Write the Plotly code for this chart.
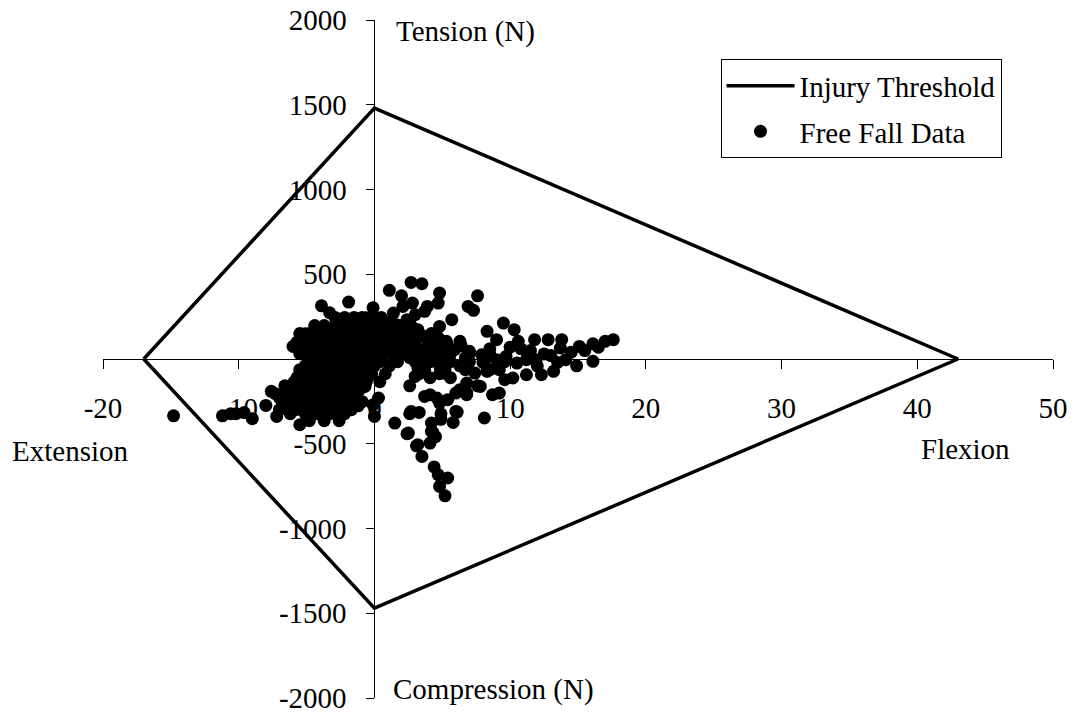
import plotly.graph_objects as go

# Injury threshold envelope (extension/flexion moment vs axial force)
threshold_moment = [-17, 0, 43, 0, -17]
threshold_force = [0, 1480, 0, -1470, 0]

# Axis ticks
x_tick_values = [-20, -10, 0, 10, 20, 30, 40, 50]
x_tick_labels = ["-20", "-10", "0", "10", "20", "30", "40", "50"]
y_tick_values = [2000, 1500, 1000, 500, 0, -500, -1000, -1500, -2000]
y_tick_labels = ["2000", "1500", "1000", "500", "0", "-500", "-1000", "-1500", "-2000"]

# Free fall measurements: (moment, force) pairs
sparse_points = [
    (-14.8, -335),
    (-11.2, -335), (-10.6, -323), (-10.2, -323), (-9.6, -316), (-9.0, -352),
    (-8.0, -274), (-7.6, -191), (-7.2, -339), (-6.4, -217), (-5.5, -388),
    (-6.0, 74), (-5.1, 149), (-4.3, 124), (-3.9, 314), (-3.3, 273), (-1.9, 336),
    (-0.1, 303), (-0.6, 244), (0.0, 222),
    (1.1, 405), (2.0, 373), (2.7, 452), (3.5, 444), (4.8, 389), (4.7, 330),
    (7.6, 373), (6.9, 310), (7.3, 287),
    (1.4, 271), (5.7, 232), (4.8, 192), (8.3, 163), (9.5, 212), (10.3, 173),
    (9.0, 114), (10.6, 104), (11.8, 114), (12.8, 114), (13.8, 114),
    (15.1, 74), (16.1, 90), (17.0, 104), (17.6, 114), (13.7, 65), (16.1, -14),
    (14.9, -40), (14.1, -4), (13.2, -73), (12.3, -93), (11.2, -93), (10.2, -112),
    (9.6, -122), (9.2, -201), (8.1, -348), (7.6, -158), (6.8, -201), (6.0, -309),
    (5.8, -374), (4.9, -323), (4.2, -427), (4.1, -496), (3.2, -506), (3.5, -575),
    (2.5, -437), (1.5, -378), (2.6, -323), (3.3, -315), (2.6, -158), (3.2, -53),
    (3.0, -103), (0.3, -230), (-0.1, -270), (0.0, -339), (-0.7, -162), (3.7, -221),
    (4.6, -230), (5.4, -240), (6.3, -181), (6.8, -142),
    (5.5, -4), (6.3, 104), (7.0, 45), (7.9, 25), (9.0, -4), (9.7, 15), (10.5, -24),
    (11.2, -4), (11.9, -4), (9.2, -63), (8.3, -73), (7.4, -83), (5.3, 104),
    (4.7, 55), (4.4, -4), (5.1, -83), (3.9, 65), (3.7, 133), (3.2, 163), (2.6, 163),
    (1.9, 133), (1.3, 114), (0.6, 65), (-0.1, 94), (0.3, 163), (0.9, 192),
    (1.6, 202), (2.4, 232), (3.0, 261), (3.7, 281), (3.9, 310), (2.8, 330), (2.1, 310),
    (4.1, -211), (4.8, -260), (2.7, -309), (2.4, -441), (4.2, -378), (4.3, -433),
    (3.1, -512), (4.4, -637), (4.7, -683), (5.4, -702), (4.8, -752), (5.2, -807),
    (4.9, -356), (6.1, -313), (6.0, -201), (6.8, -211), (7.8, -162), (8.7, -211),
    (4.5, -458),
    (12.5, 30), (13.0, 20), (14.5, 40), (15.5, 50), (16.5, 70), (11.5, 50),
    (10.8, 60), (12.0, -40), (13.5, -20), (10.0, 70), (8.5, 60), (8.0, -20),
]

core_points = [
    (-2.9, 245), (-2.2, 245), (-1.5, 245), (-0.9, 245), (-0.2, 245), (0.5, 245),
    (-4.4, 197), (-3.7, 197), (-2.9, 197), (-2.2, 197), (-1.5, 197), (-0.7, 197),
    (0.4, 197), (1.1, 197), (1.9, 197), (2.7, 197),
    (-5.5, 150), (-4.8, 150), (-4.0, 150), (-3.3, 150), (-2.6, 150), (-1.8, 150),
    (-1.1, 150), (-0.3, 150), (0.8, 150), (1.5, 150), (2.2, 150), (3.3, 150), (4.2, 150),
    (-5.7, 100), (-4.9, 100), (-4.2, 100), (-3.4, 100), (-2.7, 100), (-2.0, 100),
    (-1.2, 100), (-0.5, 100), (0.4, 100), (1.3, 100), (2.2, 100), (3.0, 100),
    (4.1, 100), (5.2, 100),
    (-5.1, 55), (-4.4, 55), (-3.7, 55), (-2.9, 55), (-2.2, 55), (-1.5, 55),
    (-0.7, 55), (0.0, 55), (1.1, 55), (2.2, 55), (3.3, 55), (4.8, 55), (5.9, 55),
    (-4.8, 8), (-4.0, 8), (-3.3, 8), (-2.6, 8), (-1.8, 8), (-1.1, 8), (-0.3, 8),
    (0.5, 8), (1.5, 8), (2.6, 8), (3.7, 8), (5.2, 8), (6.7, 8),
    (-5.1, -40), (-4.4, -40), (-3.7, -40), (-2.9, -40), (-2.2, -40), (-1.5, -40),
    (-0.7, -40), (0.0, -40), (1.1, -40), (3.3, -40), (4.8, -40), (6.3, -40),
    (-5.5, -87), (-4.8, -87), (-4.0, -87), (-3.3, -87), (-2.6, -87), (-1.8, -87),
    (-1.1, -87), (-0.2, -87), (0.8, -87), (3.3, -87), (4.8, -87),
    (-5.9, -134), (-5.1, -134), (-4.4, -134), (-3.7, -134), (-2.9, -134),
    (-2.2, -134), (-1.5, -134), (-0.6, -134), (0.4, -134),
    (-6.2, -181), (-5.5, -181), (-4.8, -181), (-4.0, -181), (-3.3, -181),
    (-2.6, -181), (-1.8, -181), (-1.1, -181),
    (-7.0, -228), (-6.1, -228), (-5.4, -228), (-4.6, -228), (-3.9, -228),
    (-3.1, -228), (-2.4, -228), (-1.7, -228),
    (-6.6, -276), (-5.7, -276), (-4.8, -276), (-3.9, -276), (-3.0, -276),
    (-2.1, -276), (-1.2, -276),
    (-6.2, -323), (-5.1, -323), (-4.2, -323), (-3.3, -323), (-2.2, -323),
    (-4.8, -364), (-3.7, -364), (-2.6, -364),
]

# Additional readings interleaved through the dense central cluster
core_fill_points = [
    (-2.5, 220), (-1.8, 220), (-1.2, 220), (-0.5, 220), (0.2, 220), (1.1, 220),
    (-4.0, 173), (-3.3, 173), (-2.6, 173), (-1.8, 173), (-1.1, 173), (-0.2, 173),
    (0.8, 173), (1.7, 173), (2.5, 173), (3.2, 173),
    (-5.1, 126), (-4.4, 126), (-3.7, 126), (-2.9, 126), (-2.2, 126), (-1.5, 126),
    (-0.7, 126), (0.2, 126), (1.1, 126), (2.0, 126), (2.9, 126), (3.8, 126), (4.7, 126),
    (-5.5, 78), (-4.8, 78), (-4.0, 78), (-3.3, 78), (-2.6, 78), (-1.8, 78),
    (-1.1, 78), (-0.2, 78), (0.8, 78), (1.7, 78), (2.8, 78), (3.9, 78), (5.4, 78), (6.4, 78),
    (-5.5, 31), (-4.8, 31), (-4.0, 31), (-3.3, 31), (-2.6, 31), (-1.8, 31),
    (-1.1, 31), (-0.3, 31), (0.4, 31), (1.3, 31), (2.2, 31), (3.2, 31), (4.2, 31),
    (5.6, 31), (7.0, 31), (8.5, 31),
    (-4.9, -16), (-4.2, -16), (-3.4, -16), (-2.7, -16), (-2.0, -16), (-1.2, -16),
    (-0.5, -16), (0.4, -16), (1.7, -16), (3.0, -16), (4.1, -16), (5.6, -16),
    (7.0, -16), (8.1, -16), (9.6, -16),
    (-5.5, -63), (-4.8, -63), (-4.0, -63), (-3.3, -63), (-2.6, -63), (-1.8, -63),
    (-1.1, -63), (-0.3, -63), (3.7, -63), (5.2, -63), (6.7, -63), (8.5, -63),
    (-5.7, -110), (-4.9, -110), (-4.2, -110), (-3.4, -110), (-2.7, -110),
    (-2.0, -110), (-1.2, -110), (-0.5, -110), (4.1, -110), (5.6, -110),
    (-6.6, -158), (-5.9, -158), (-5.1, -158), (-4.4, -158), (-3.7, -158),
    (-2.9, -158), (-2.2, -158), (-1.5, -158), (-0.7, -158),
    (-7.3, -205), (-6.5, -205), (-5.7, -205), (-5.0, -205), (-4.2, -205),
    (-3.5, -205), (-2.8, -205), (-2.0, -205), (-1.3, -205),
    (-6.8, -252), (-6.1, -252), (-5.2, -252), (-4.3, -252), (-3.4, -252),
    (-2.5, -252), (-1.7, -252), (-0.9, -252),
    (-7.0, -299), (-5.8, -299), (-4.6, -299), (-3.6, -299), (-2.7, -299), (-1.7, -299),
]

fall_points = sparse_points + core_points + core_fill_points
fall_moment = [p[0] for p in fall_points]
fall_force = [p[1] for p in fall_points]

SERIF = "Liberation Serif, Times New Roman, serif"
FONT_SIZE = 29

fig = go.Figure()

fig.add_trace(go.Scatter(
    x=threshold_moment, y=threshold_force,
    mode="lines",
    name="Injury Threshold",
    legendgroup="threshold",
    line=dict(color="black", width=3.5),
))

fig.add_trace(go.Scatter(
    x=fall_moment, y=fall_force,
    mode="markers",
    name="Free Fall Data",
    legendgroup="fall",
    marker=dict(color="black", size=13, line=dict(width=0)),
))

axis_common = dict(
    showgrid=False,
    zeroline=False,
    showline=True,
    linecolor="black",
    linewidth=1,
    ticks="outside",
    tickcolor="black",
    tickwidth=1,
    tickfont=dict(family=SERIF, size=FONT_SIZE, color="black"),
    layer="below traces",
    automargin=False,
    anchor="free",
)

fig.update_xaxes(
    range=[-20, 50],
    tickmode="array",
    tickvals=x_tick_values,
    ticktext=x_tick_labels,
    ticklen=9,
    position=0.5,
    ticklabelstandoff=14,
    **axis_common,
)

fig.update_yaxes(
    range=[-2000, 2000],
    tickmode="array",
    tickvals=y_tick_values,
    ticktext=y_tick_labels,
    ticklen=8,
    position=20 / 70,
    ticklabelstandoff=14,
    **axis_common,
)

label_font = dict(family=SERIF, size=FONT_SIZE, color="black")
fig.add_annotation(text="Tension (N)", xref="x", yref="y", x=0, y=2000,
                   xanchor="left", yanchor="middle", xshift=20, yshift=-11,
                   showarrow=False, font=label_font)
fig.add_annotation(text="Compression (N)", xref="x", yref="y", x=0, y=-2000,
                   xanchor="left", yanchor="middle", xshift=17, yshift=9,
                   showarrow=False, font=label_font)
fig.add_annotation(text="Extension", xref="paper", yref="paper", x=-0.0347, y=0.364,
                   xanchor="center", yanchor="middle", showarrow=False, font=label_font)
fig.add_annotation(text="Flexion", xref="paper", yref="paper", x=0.908, y=0.367,
                   xanchor="center", yanchor="middle", showarrow=False, font=label_font)

fig.update_layout(
    width=1075,
    height=715,
    template="none",
    paper_bgcolor="white",
    plot_bgcolor="white",
    margin=dict(l=103, r=22, t=20, b=17, autoexpand=False),
    showlegend=True,
    legend=dict(
        x=0.65, y=0.942, xanchor="left", yanchor="top",
        font=dict(family=SERIF, size=FONT_SIZE, color="black"),
        bgcolor="white",
        bordercolor="black",
        borderwidth=1,
        traceorder="grouped",
        tracegroupgap=5,
        itemwidth=68,
    ),
)

fig.write_html("out.html")
